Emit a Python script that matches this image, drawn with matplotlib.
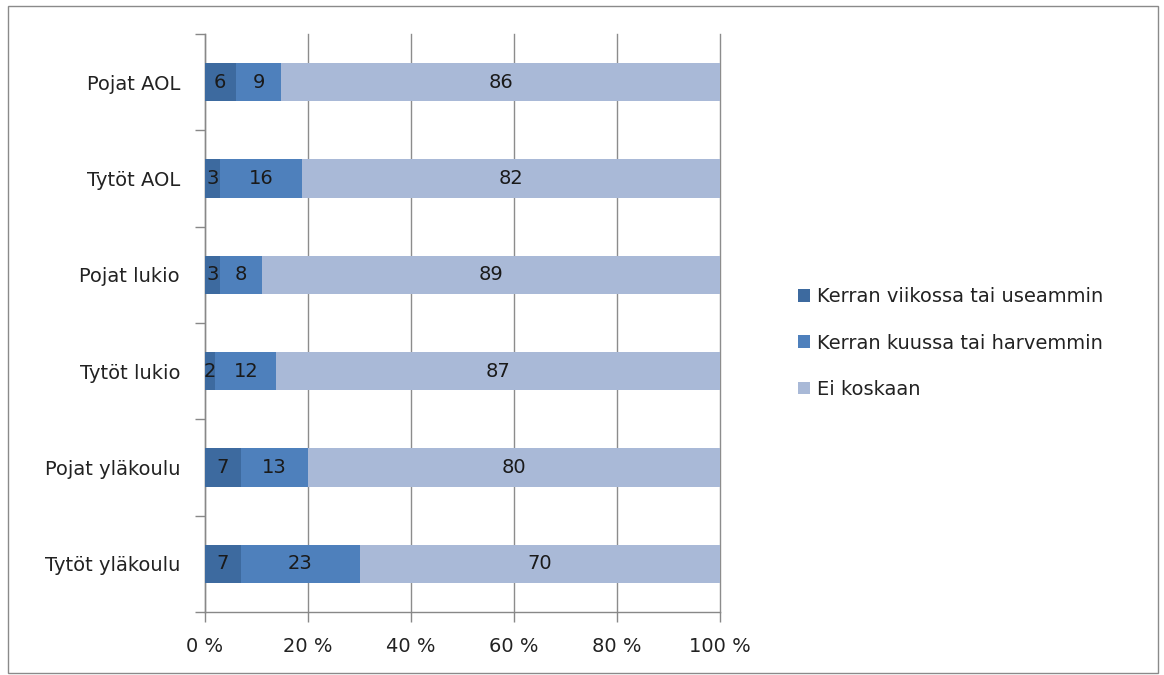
import matplotlib
matplotlib.use("Agg")
import matplotlib.pyplot as plt
import numpy as np
from matplotlib.patches import Rectangle
from matplotlib.ticker import FixedLocator

categories = ["Pojat AOL", "Tytöt AOL", "Pojat lukio", "Tytöt lukio", "Pojat yläkoulu", "Tytöt yläkoulu"]
series_names = ["Kerran viikossa tai useammin", "Kerran kuussa tai harvemmin", "Ei koskaan"]
weekly = [6, 3, 3, 2, 7, 7]
monthly = [9, 16, 8, 12, 13, 23]
never = [86, 82, 89, 87, 80, 70]
x_ticks = [0, 20, 40, 60, 80, 100]
x_tick_labels = ["0 %", "20 %", "40 %", "60 %", "80 %", "100 %"]
colors = ["#3D6A9F", "#4E80BC", "#A9B9D7"]

plt.rcParams['font.family'] = ['DejaVu Sans']
FS = 14

fig = plt.figure(figsize=(11.64, 6.75), dpi=100)
ax = fig.add_axes([205/1164, 1-612/675, (720-205)/1164, (612-34)/675])

data = np.array([weekly, monthly, never], dtype=float)
totals = data.sum(axis=0)
pct = data / totals * 100
y = np.arange(len(categories))[::-1]

left = np.zeros(len(categories))
for i in range(3):
    bars = ax.barh(y, pct[i], left=left, height=0.4, color=colors[i], label=series_names[i], zorder=3)
    for j, b in enumerate(bars):
        ax.text(left[j] + pct[i][j] / 2, y[j], f"{int(data[i][j])}", ha="center", va="center",
                fontsize=FS, color="#1a1a1a", zorder=4)
    left += pct[i]

ax.set_xlim(0, 100)
ax.set_ylim(-0.5, len(categories) - 0.5)
ax.set_xticks(x_ticks)
ax.set_xticklabels(x_tick_labels, fontsize=FS, color="#222222")
ax.set_yticks(y)
ax.set_yticklabels(categories, fontsize=FS, color="#222222")
ax.yaxis.set_minor_locator(FixedLocator(np.arange(-0.5, len(categories), 1.0)))
ax.tick_params(axis="y", which="major", length=0, pad=18)
ax.tick_params(axis="y", which="minor", length=7, color="#888888", width=1)
ax.tick_params(axis="x", which="major", length=7, color="#888888", width=1, pad=11)
ax.grid(axis="x", color="#8c8c8c", linewidth=1, zorder=0)
for gl in ax.get_xgridlines():
    gl.set_clip_on(False)
for s in ["top", "right"]:
    ax.spines[s].set_visible(False)
for s in ["left", "bottom"]:
    ax.spines[s].set_color("#888888")
    ax.spines[s].set_linewidth(1)

leg = fig.legend(loc="center left", bbox_to_anchor=(781/1164, 1-343/675), frameon=False,
                 fontsize=FS, handlelength=0.6, handleheight=0.6, handletextpad=0.35,
                 labelspacing=1.4)
for t in leg.get_texts():
    t.set_color("#222222")

fig.patches.append(Rectangle((8/1164, 1-673/675), (1158-8)/1164, (673-6)/675,
                             transform=fig.transFigure, fill=False, edgecolor="#8a8a8a", linewidth=1))

fig.savefig("out.png", dpi=100)
